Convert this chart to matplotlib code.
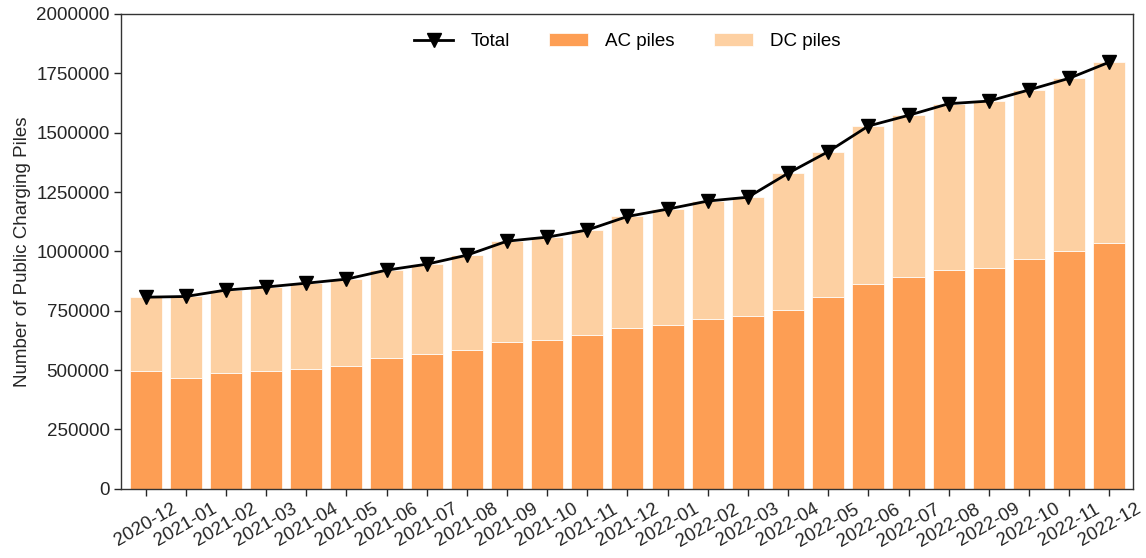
import matplotlib.pyplot as plt
import numpy as np

plt.rcParams['font.family'] = ['Liberation Sans', 'DejaVu Sans']

# Monthly public charging piles, Dec 2020 - Dec 2022
months = ['2020-12', '2021-01', '2021-02', '2021-03', '2021-04', '2021-05',
          '2021-06', '2021-07', '2021-08', '2021-09', '2021-10', '2021-11',
          '2021-12', '2022-01', '2022-02', '2022-03', '2022-04', '2022-05',
          '2022-06', '2022-07', '2022-08', '2022-09', '2022-10', '2022-11',
          '2022-12']
ac_piles = [498000, 466000, 488000, 496000, 505000, 518000,
            552000, 568000, 585000, 618000, 627000, 648000,
            678000, 691000, 716000, 728000, 754000, 808000,
            863000, 893000, 922000, 931000, 968000, 1002000,
            1036000]
dc_piles = [309000, 344000, 349000, 354000, 361000, 365000,
            369000, 378000, 399000, 425000, 433000, 442000,
            469000, 487000, 496000, 500000, 575000, 612000,
            665000, 680000, 700000, 702000, 712000, 727000,
            761000]

ac = np.array(ac_piles)
dc = np.array(dc_piles)
total = ac + dc
x = np.arange(len(months))

fig, ax = plt.subplots(figsize=(11.46, 5.58), dpi=100)
fig.subplots_adjust(left=0.106, right=0.989, top=0.975, bottom=0.124)

ax.bar(x, ac, width=0.8, color='#fd9e54', edgecolor='white', linewidth=0.5, label='AC piles')
ax.bar(x, dc, width=0.8, bottom=ac, color='#fdd0a2', edgecolor='white', linewidth=0.5, label='DC piles')
ax.plot(x, total, color='black', marker='v', markersize=9.5, linewidth=2, label='Total')

ax.set_ylim(0, 2000000)
ax.set_yticks(np.arange(0, 2000001, 250000))
ax.ticklabel_format(axis='y', style='plain', useOffset=False)
ax.set_xlim(-0.6, len(months) - 0.4)
ax.set_xticks(x)
ax.set_xticklabels(months, rotation=30, ha='center')
ax.set_ylabel('Number of Public Charging Piles', fontsize=13.5, color='#262626')

ax.tick_params(axis='both', labelsize=13.5, colors='#262626', direction='out', length=5, width=1)
for s in ax.spines.values():
    s.set_color('#333333')
    s.set_linewidth(1)

ax.legend(loc='upper center', bbox_to_anchor=(0.5, 0.995), ncol=3, frameon=False,
          fontsize=13.5, handlelength=2.1, handletextpad=0.9, columnspacing=2.1)

plt.savefig('out.png')
